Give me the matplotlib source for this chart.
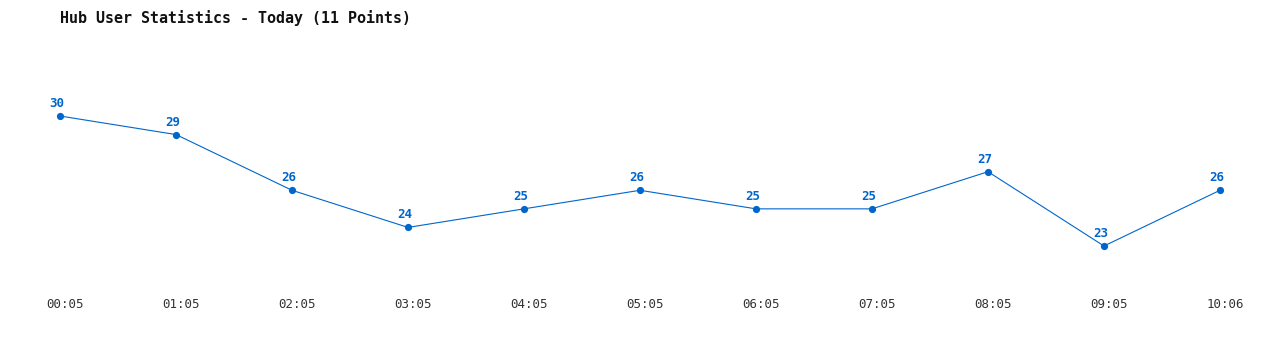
import matplotlib
matplotlib.use("Agg")
import matplotlib.pyplot as plt
import matplotlib.transforms as mtransforms

times = ["00:05", "01:05", "02:05", "03:05", "04:05", "05:05",
         "06:05", "07:05", "08:05", "09:05", "10:06"]
users = [30, 29, 26, 24, 25, 26, 25, 25, 27, 23, 26]

blue = "#0066cc"
mono = ["DejaVu Sans Mono"]

fig = plt.figure(figsize=(12.8, 3.5), dpi=100, facecolor="white")
# axes from the top of the figure down to the tick-label row
ax = fig.add_axes([0, 60 / 350, 1, 290 / 350])

x = list(range(len(users)))
ax.plot(x, users, color=blue, linewidth=0.8, marker="o", markersize=5.2,
        markeredgewidth=0)

for xi, v in zip(x, users):
    ax.annotate(str(v), (xi, v), xytext=(-3, 6), textcoords="offset pixels",
                ha="center", va="bottom", fontsize=9, fontweight="bold",
                color=blue, family=mono)

ax.set_xlim(-60 / 116, 1220 / 116)
ax.set_ylim(30 - 174 / 18.57, 30 + 116 / 18.57)

ax.set_xticks(x)
ax.set_xticklabels(times, family=mono, fontsize=9, color="#333333")
ax.tick_params(axis="x", length=0, pad=6)
ax.set_yticks([])
for s in ax.spines.values():
    s.set_visible(False)

shift = mtransforms.ScaledTranslation(5 / 100, 0, fig.dpi_scale_trans)
for lab in ax.get_xticklabels():
    lab.set_transform(lab.get_transform() + shift)

fig.text(60 / 1280, 1 - 18 / 350, "Hub User Statistics - Today (11 Points)",
         ha="left", va="center", fontsize=10.8, fontweight="bold",
         color="#111111", family=mono)

fig.savefig("out.png", dpi=100, facecolor="white")
